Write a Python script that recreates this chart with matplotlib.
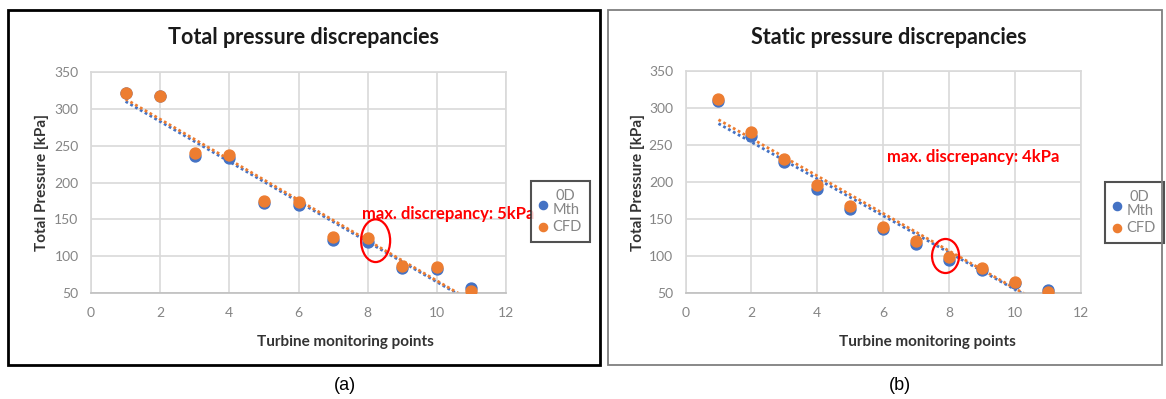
import numpy as np
import matplotlib
matplotlib.use("Agg")
import matplotlib.pyplot as plt
from matplotlib.patches import Ellipse, Rectangle

# monitoring points
points = np.arange(1, 12)

# (a) total pressure [kPa]
total_0d = [321, 317, 236, 233, 172, 170, 122, 119, 84, 82, 57]
total_cfd = [322, 318, 240, 237, 175, 173, 126, 124, 86, 85, 53]

# (b) static pressure [kPa]
static_0d = [309, 262, 227, 190, 163.5, 136, 116, 95, 81, 64, 54.5]
static_cfd = [311.5, 267, 231, 196, 167.5, 139, 120.5, 99, 83.5, 65.5, 52]

titles = ["Total pressure discrepancies", "Static pressure discrepancies"]
notes = ["max. discrepancy: 5kPa", "max. discrepancy: 4kPa"]
panel_tags = ["(a)", "(b)"]

BLUE = "#4472C4"
ORANGE = "#ED7D31"
GRID = "#d9d9d9"
TICK = "#858585"
FONT = "Lato"

W, H = 1166, 399
fig = plt.figure(figsize=(W / 100, H / 100), dpi=100)


def fx(px):
    return px / W


def fy(py):
    return 1 - py / H


def draw_panel(ax, y0d, ycfd, note, note_xy, ell_xy, ell_wh, leg_xy):
    # trendlines (linear fit, like excel)
    for ys, c in [(y0d, BLUE), (ycfd, ORANGE)]:
        k, b = np.polyfit(points, ys, 1)
        xs = np.array([1, 11])
        ax.plot(xs, k * xs + b, color=c, linestyle=(0, (1, 1)), linewidth=2, zorder=2)

    ax.scatter(points, y0d, s=62, color=BLUE, zorder=3, label="0D\nMth")
    ax.scatter(points, ycfd, s=62, color=ORANGE, zorder=4, label="CFD")

    ax.set_xlim(0, 12)
    ax.set_ylim(50, 350)
    ax.set_xticks(range(0, 13, 2))
    ax.set_yticks(range(50, 351, 50))
    ax.grid(True, color=GRID, linewidth=1.2)
    ax.set_axisbelow(True)
    for name, sp in ax.spines.items():
        sp.set_color(GRID)
        sp.set_linewidth(1.2)
    ax.spines["bottom"].set_color("#bfbfbf")
    ax.tick_params(length=0, labelsize=10, labelcolor=TICK)
    ax.tick_params(axis="x", pad=10)
    ax.tick_params(axis="y", pad=9)
    for lab in ax.get_xticklabels() + ax.get_yticklabels():
        lab.set_family(FONT)

    ax.text(note_xy[0], note_xy[1], note, color="#ff0000", fontsize=12,
            fontweight="bold", family=FONT, va="center", ha="left", zorder=5)
    ax.add_patch(Ellipse(ell_xy, ell_wh[0], ell_wh[1], fill=False,
                         edgecolor="#ff0000", linewidth=1.6, zorder=5))

    leg = ax.legend(loc="upper left", bbox_to_anchor=leg_xy, bbox_transform=fig.transFigure,
                    borderaxespad=0, frameon=True, fancybox=False, handlelength=0.6,
                    handletextpad=0.3, labelspacing=0.2, borderpad=0.55,
                    prop={"family": FONT, "size": 10.5}, markerscale=0.75)
    leg.get_frame().set_edgecolor("#262626")
    leg.get_frame().set_linewidth(1.5)
    for t in leg.get_texts():
        t.set_color(TICK)
        t.set_multialignment("center")
        t.set_linespacing(1.0)
    return ax


# panel (a)
ax1 = fig.add_axes([fx(91), fy(293), fx(506 - 91), (293 - 72) / H])
draw_panel(ax1, total_0d, total_cfd, notes[0], (7.84, 157), (8.23, 121), (0.84, 58),
           (fx(531), fy(181)))

# panel (b)
ax2 = fig.add_axes([fx(685.5), fy(293), fx(1081 - 685.5), (293 - 71) / H])
draw_panel(ax2, static_0d, static_cfd, notes[1], (6.11, 234), (7.89, 100), (0.82, 46),
           (fx(1105), fy(182)))

# titles and axis labels
for cx, ty, title in [(304, 38, titles[0]), (889, 37, titles[1])]:
    fig.text(fx(cx), fy(ty), title, ha="center", va="center", fontsize=15.5,
             fontweight="bold", family=FONT, color="#1a1a1a")
for cx in [345, 927]:
    fig.text(fx(cx), fy(342), "Turbine monitoring points", ha="center", va="center",
             fontsize=11, fontweight="bold", family=FONT, color="#333333")
for lx in [42, 638]:
    fig.text(fx(lx), fy(182.5), "Total Pressure [kPa]", ha="center", va="center",
             rotation=90, fontsize=11, fontweight="bold", family=FONT, color="#333333")

# panel borders
fig.patches.append(Rectangle((fx(8), fy(365)), fx(592), (365 - 10) / H,
                             transform=fig.transFigure, fill=False,
                             edgecolor="black", linewidth=2))
fig.patches.append(Rectangle((fx(608), fy(365)), fx(554), (365 - 10) / H,
                             transform=fig.transFigure, fill=False,
                             edgecolor="#7f7f7f", linewidth=1.3))

for cx, tag in [(345, panel_tags[0]), (900, panel_tags[1])]:
    fig.text(fx(cx), fy(385), tag, ha="center", va="center", fontsize=13,
             family="Liberation Sans", color="black")

fig.savefig("out.png", dpi=100)
